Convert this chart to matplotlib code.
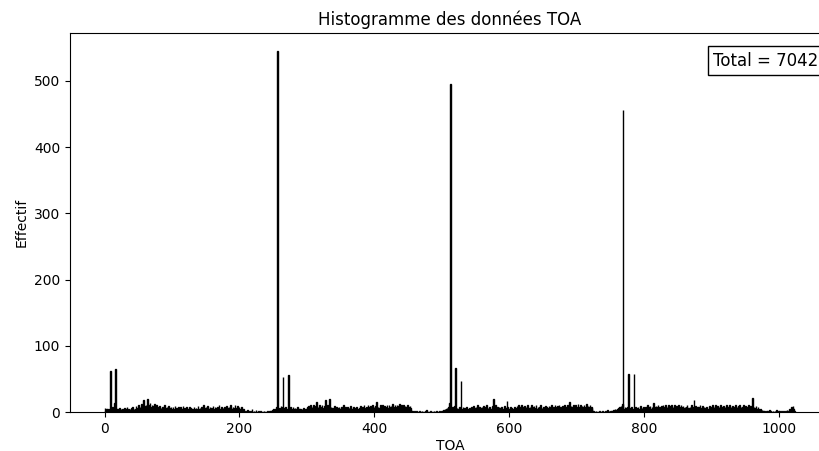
import numpy as np
import matplotlib
matplotlib.use("Agg")
import matplotlib.pyplot as plt

# Counts per TOA bin (width 1), bins 0..1023, split by quarter
q0 = [
    6, 2, 4, 2, 4, 3, 5, 4, 62, 4, 2, 7, 3, 5, 14, 4,
    65, 4, 3, 5, 2, 4, 6, 2, 4, 3, 5, 4, 2, 6, 3, 4,
    4, 7, 2, 4, 3, 5, 2, 6, 4, 8, 3, 4, 2, 5, 9, 4,
    6, 3, 10, 4, 8, 4, 12, 5, 3, 18, 6, 9, 4, 11, 5, 19,
    4, 10, 6, 13, 4, 8, 11, 5, 9, 3, 12, 6, 4, 10, 4, 7,
    5, 9, 3, 6, 4, 8, 2, 5, 10, 4, 6, 3, 7, 4, 9, 2,
    6, 4, 8, 3, 5, 7, 2, 4, 9, 4, 6, 2, 5, 8, 3, 4,
    7, 2, 5, 4, 9, 3, 6, 4, 2, 8, 4, 5, 3, 7, 4, 6,
    4, 2, 5, 3, 7, 2, 4, 6, 3, 5, 9, 4, 2, 6, 4, 8,
    3, 5, 10, 4, 6, 2, 7, 4, 9, 3, 5, 4, 8, 2, 6, 4,
    9, 3, 5, 7, 4, 6, 2, 8, 4, 10, 3, 5, 4, 7, 2, 6,
    4, 8, 3, 5, 9, 4, 6, 2, 7, 4, 10, 3, 5, 4, 8, 6,
    3, 11, 4, 6, 2, 9, 4, 7, 5, 3, 8, 4, 2, 4, 2, 0,
    1, 0, 0, 3, 0, 1, 0, 0, 2, 0, 4, 0, 0, 1, 0, 0,
    3, 0, 0, 0, 1, 0, 0, 2, 0, 0, 0, 0, 1, 0, 0, 0,
    0, 1, 0, 0, 2, 1, 0, 2, 3, 2, 4, 3, 5, 4, 7, 6,
]
q1 = [
    545, 5, 4, 6, 3, 9, 4, 7, 53, 4, 6, 3, 8, 4, 5, 2,
    56, 6, 4, 7, 3, 5, 2, 8, 4, 4, 6, 2, 5, 7, 3, 4,
    4, 2, 5, 3, 4, 2, 6, 4, 3, 5, 2, 4, 7, 4, 9, 3,
    6, 11, 4, 8, 3, 10, 5, 4, 9, 6, 15, 4, 7, 4, 10, 5,
    8, 4, 11, 6, 4, 9, 5, 18, 7, 4, 10, 6, 3, 20, 5, 8,
    4, 6, 3, 5, 9, 4, 2, 7, 4, 6, 3, 8, 4, 5, 2, 7,
    4, 6, 10, 4, 3, 7, 5, 2, 8, 4, 6, 4, 9, 3, 5, 4,
    7, 2, 4, 6, 3, 8, 4, 5, 2, 6, 4, 9, 3, 5, 7, 4,
    10, 4, 6, 3, 8, 5, 11, 4, 7, 4, 9, 3, 6, 10, 4, 7,
    4, 9, 5, 15, 4, 8, 6, 3, 10, 4, 7, 11, 4, 6, 9, 5,
    8, 4, 10, 6, 4, 11, 7, 3, 9, 5, 12, 4, 8, 6, 10, 4,
    7, 11, 4, 9, 6, 12, 4, 8, 10, 5, 7, 11, 4, 9, 6, 8,
    5, 10, 7, 4, 9, 6, 2, 2, 1, 0, 0, 1, 0, 0, 2, 0,
    0, 0, 1, 0, 0, 0, 2, 0, 0, 0, 0, 1, 0, 3, 0, 0,
    0, 0, 0, 1, 0, 0, 0, 0, 2, 0, 0, 1, 0, 0, 0, 0,
    1, 0, 0, 2, 1, 0, 3, 2, 4, 3, 5, 6, 4, 8, 7, 13,
]
q2 = [
    495, 6, 4, 7, 3, 5, 9, 4, 66, 4, 6, 3, 5, 2, 7, 4,
    47, 5, 3, 8, 4, 6, 2, 4, 7, 3, 5, 4, 6, 2, 4, 8,
    3, 5, 9, 4, 6, 2, 7, 4, 10, 3, 5, 8, 4, 6, 2, 7,
    4, 9, 3, 5, 7, 4, 11, 4, 6, 3, 8, 4, 5, 2, 9, 4,
    20, 3, 7, 10, 4, 5, 8, 4, 8, 3, 6, 4, 7, 2, 5, 4,
    9, 3, 6, 4, 17, 7, 4, 5, 3, 8, 4, 6, 2, 5, 4, 7,
    3, 6, 4, 9, 4, 11, 5, 7, 3, 10, 4, 8, 6, 4, 9, 5,
    7, 4, 10, 4, 6, 3, 8, 5, 11, 4, 7, 4, 9, 3, 6, 10,
    4, 5, 8, 3, 7, 4, 10, 4, 6, 2, 8, 5, 4, 9, 4, 7,
    3, 6, 9, 4, 7, 4, 10, 5, 3, 8, 6, 11, 4, 7, 4, 9,
    5, 10, 4, 8, 6, 3, 9, 7, 4, 11, 5, 4, 8, 6, 10, 4,
    7, 15, 4, 9, 5, 8, 4, 11, 6, 4, 10, 7, 5, 12, 4, 8,
    6, 10, 4, 9, 7, 5, 11, 4, 8, 6, 12, 4, 9, 5, 7, 10,
    4, 8, 6, 2, 1, 0, 0, 0, 1, 0, 0, 0, 0, 1, 0, 0,
    0, 0, 2, 0, 0, 0, 1, 0, 0, 3, 0, 1, 0, 2, 0, 1,
    2, 1, 3, 2, 4, 3, 2, 5, 4, 6, 5, 7, 6, 9, 8, 12,
]
q3 = [
    456, 5, 3, 7, 4, 6, 2, 8, 57, 4, 3, 6, 4, 7, 5, 2,
    58, 4, 7, 3, 6, 4, 8, 2, 5, 4, 9, 3, 6, 4, 7, 5,
    4, 8, 3, 6, 10, 4, 7, 4, 9, 5, 3, 8, 6, 14, 4, 7,
    5, 9, 4, 7, 10, 4, 8, 6, 3, 9, 5, 11, 4, 7, 6, 10,
    4, 8, 5, 10, 4, 7, 9, 6, 11, 4, 8, 3, 10, 5, 7, 9,
    4, 6, 11, 5, 8, 4, 10, 7, 3, 9, 6, 5, 8, 4, 7, 10,
    4, 6, 3, 8, 5, 10, 4, 7, 6, 18, 4, 9, 3, 6, 8, 4,
    7, 4, 10, 3, 6, 5, 9, 4, 7, 2, 6, 4, 8, 3, 5, 4,
    9, 4, 7, 6, 3, 10, 5, 8, 4, 11, 6, 4, 9, 3, 7, 5,
    10, 4, 6, 8, 4, 9, 3, 7, 5, 11, 4, 6, 8, 4, 10, 5,
    7, 4, 9, 6, 3, 8, 5, 10, 4, 7, 4, 9, 6, 11, 5, 8,
    4, 7, 10, 4, 6, 9, 5, 8, 3, 7, 11, 4, 6, 9, 5, 7,
    21, 4, 8, 4, 6, 9, 3, 5, 7, 4, 3, 2, 4, 2, 3, 1,
    2, 0, 1, 0, 0, 2, 1, 0, 0, 3, 0, 1, 0, 0, 2, 0,
    0, 1, 0, 3, 0, 0, 2, 0, 1, 0, 0, 2, 0, 0, 1, 0,
    0, 2, 0, 3, 1, 0, 2, 4, 3, 5, 8, 6, 9, 4, 2, 0,
]

counts = np.array(q0 + q1 + q2 + q3)
toa = np.arange(len(counts))
edges = np.arange(len(counts) + 1)
total = int(counts.sum())

fig = plt.figure(figsize=(8.19, 4.51), dpi=100)
ax = fig.add_axes([70 / 819, 39 / 451, 760 / 819, 379 / 451])
ax.hist(toa, bins=edges, weights=counts, color="black",
        edgecolor="black", linewidth=1.0)
ax.set_title("Histogramme des données TOA", fontsize=12)
ax.set_xlabel("TOA", labelpad=2)
ax.set_ylabel("Effectif")
ax.text(0.985, 0.95, f"Total = {total}", transform=ax.transAxes,
        ha="right", va="top", fontsize=12,
        bbox=dict(facecolor="white", edgecolor="black"))
fig.savefig("out.png", dpi=100)
